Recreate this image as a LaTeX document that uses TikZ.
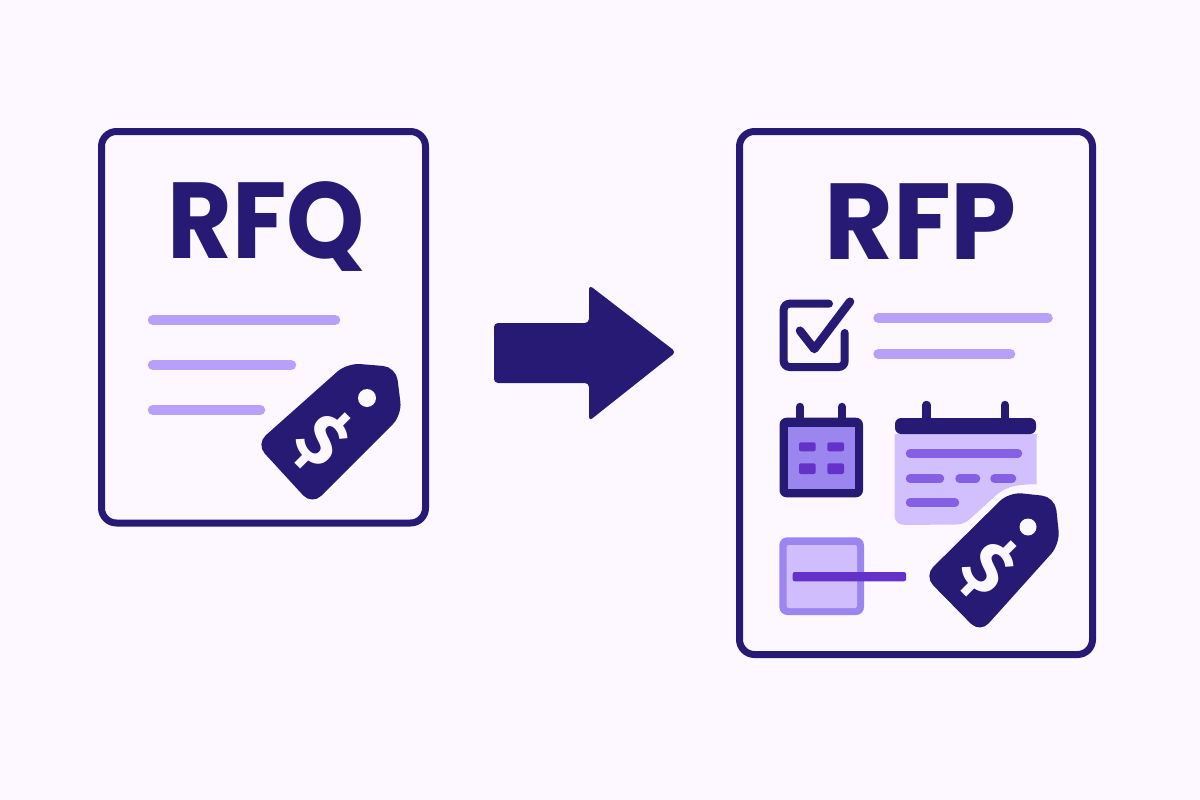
\documentclass[tikz,border=0pt]{standalone}
\usepackage{fontspec}
\setmainfont{Poppins}
\newfontfamily\dollarfont{Fira Sans}
\definecolor{pagebg}{HTML}{FDF8FF}
\definecolor{ink}{HTML}{261A74}
\definecolor{barcol}{HTML}{B79FFA}
\definecolor{midcol}{HTML}{9B85EE}
\definecolor{palecol}{HTML}{D0BDFD}
\definecolor{notelight}{HTML}{D2BFFD}
\definecolor{noteline}{HTML}{8560E4}
\definecolor{deepcol}{HTML}{6431C9}
\tikzset{
  frame/.style={draw=ink,line width=7pt,rounded corners=15pt,fill=pagebg},
  title/.style={text=ink,inner sep=0pt,anchor=base,font=\fontsize{108}{108}\selectfont\bfseries,transform shape},
  barline/.style={line cap=round,draw=barcol,line width=10.5pt},
  noteln/.style={line cap=round,draw=noteline,line width=8.5pt},
  peg/.style={line cap=round,draw=ink,line width=8.5pt},
  dollar/.style={text=pagebg,inner sep=0pt,font=\dollarfont\fontsize{72}{72}\selectfont\bfseries,rotate=-45},
  tagfill/.style={fill=ink,rounded corners=13pt}
}
\begin{document}
\begin{tikzpicture}[x=1pt,y=-1pt]
\useasboundingbox (0,0) rectangle (1200,800);
\fill[pagebg] (0,0) rectangle (1200,800);
% left doc
\draw[frame] (101.5,131.5) rectangle (425.5,523);
\node[title,xscale=.92] (rfq) at (266,258) {RFQ};
\draw[barline] (153,320) -- (335,320);
\draw[barline] (153,365) -- (291,365);
\draw[barline] (153,410) -- (260,410);
% left tag
\fill[tagfill] (256,444) -- (312,505) -- (402,415) -- (396,367) -- (347,363) -- cycle;
\fill[pagebg] (367,398) circle (9);
\node[dollar] (dl) at (323,440) {\$};
% arrow
\fill[ink,rounded corners=4pt] (494,323) -- (589,323) -- (589,285) -- (676,352) -- (589,421) -- (589,383) -- (494,383) -- cycle;
% right doc
\draw[frame] (739.5,131.5) rectangle (1092.5,654.5);
\node[title,xscale=.98] (rfp) at (920.5,259) {RFP};
% checkbox
\draw[draw=ink,line width=8pt,line cap=round,rounded corners=6pt] (829,303.7) -- (783.7,303.7) -- (783.7,367) -- (844.7,367) -- (844.7,333);
\draw[draw=ink,line width=8.5pt,line cap=round,line join=round] (800,330.7) -- (814.3,349) -- (850,301.7);
\draw[barline] (878.5,318) -- (1047.5,318);
\draw[barline] (878.5,354) -- (1010,354);
% small calendar
\draw[peg] (800,407) -- (800,420);
\draw[peg] (842,407) -- (842,420);
\fill[ink,rounded corners=7pt] (779.5,417.7) rectangle (863,497.3);
\fill[midcol] (787.7,426.7) rectangle (855,489.3);
\foreach \cx in {799,827.3}{
  \fill[deepcol,rounded corners=2pt] (\cx,442.3) rectangle ++(16.7,9);
  \fill[deepcol,rounded corners=2pt] (\cx,463.3) rectangle ++(16.7,10.7);
}
% note
\fill[notelight] (894.5,434) -- (1036.5,434) -- (1036.5,484.3) .. controls (1012,484.3) and (1003,488) .. (992,499) -- (971,518) .. controls (965,524) and (960,524.5) .. (955,524.5) -- (905,525) .. controls (898,525) and (894.5,521) .. (894.5,515) -- cycle;
\draw[peg] (926.5,405) -- (926.5,420);
\draw[peg] (1005,405) -- (1005,420);
\fill[ink,rounded corners=6pt] (895,434) -- (895,418) -- (1036,418) -- (1036,434) -- cycle;
\draw[noteln] (910,453.3) -- (1018,453.3);
\draw[noteln] (910,478.7) -- (940,478.7);
\draw[noteln] (959.5,478.7) -- (976,478.7);
\draw[noteln] (994.5,478.7) -- (1012,478.7);
\draw[noteln] (910,502.7) -- (955,502.7);
% entry box
\fill[midcol,rounded corners=8pt] (779.3,537.3) rectangle (864,615);
\fill[palecol,rounded corners=2pt] (786.7,545) rectangle (857,608);
\fill[deepcol,rounded corners=2pt] (792.7,572) rectangle (906,581.3);
% right tag
\fill[tagfill] (924,576) -- (980,633) -- (1060,544) -- (1055,497) -- (1009,492) -- cycle;
\fill[pagebg] (1028,527) circle (8.5);
\node[dollar] (dr) at (988,568) {\$};
\end{tikzpicture}
\end{document}
